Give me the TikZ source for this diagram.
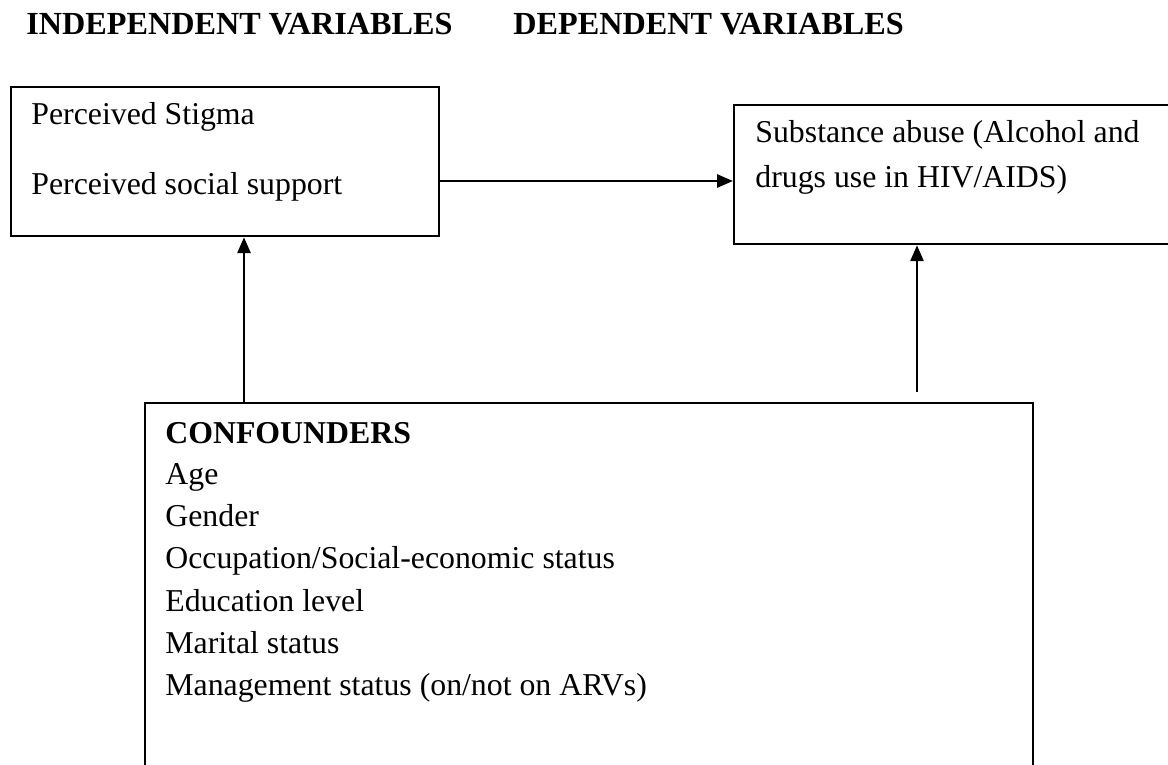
\documentclass[tikz,border=0pt]{standalone}
\usepackage{fontspec}
\setmainfont{Liberation Serif}
\usetikzlibrary{arrows.meta}
\tikzset{
  varbox/.style={draw, line width=1.1pt, anchor=north west, inner sep=0pt},
  vartext/.style={anchor=base west, inner sep=0pt},
  link/.style={line width=1.4pt, -{Triangle[length=8pt,width=6.5pt]}}
}

\begin{document}
\begin{tikzpicture}[x=0.5pt, y=-0.5pt, font=\fontsize{15.9}{19}\selectfont]
	\useasboundingbox (0,0) rectangle (1168,765);
	\clip (0,0) rectangle (1168,765);
	% headings
	\node[vartext] (indephead) at (26,35) {\fontsize{16.1}{19}\selectfont\bfseries INDEPENDENT VARIABLES};
	\node[vartext] (dephead) at (513,35) {\fontsize{16.1}{19}\selectfont\bfseries DEPENDENT VARIABLES};
	% boxes
	\node[varbox, minimum width=214pt, minimum height=74.5pt] (ivbox) at (10,86) {};
	\node[varbox, minimum width=228.5pt, minimum height=69.5pt] (dvbox) at (733,104) {};
	\node[varbox, minimum width=444pt, minimum height=194pt] (cfbox) at (144,402) {};
	% texts
	\node[vartext] (stigma) at (31,125) {Perceived Stigma};
	\node[vartext] (support) at (31,195) {Perceived social support};
	\node[vartext] (abuse) at (755,143) {Substance abuse (Alcohol and};
	\node[vartext] (abuse2) at (755,187) {drugs use in HIV/AIDS)};
	\node[vartext] (cfhead) at (165,443) {\bfseries CONFOUNDERS};
	\foreach \y/\t [count=\i] in {484/{Age}, 526/{Gender}, 568/{Occupation/Social-economic status},
	  611/{Education level}, 653/{Marital status}, 695/{Management status (on/not on ARVs)}}
	  \node[vartext] (cf\i) at (165,\y) {\t};
	% arrows
	\coordinate (rfoot) at (917,392);
	\draw[link] (ivbox.east |- 0,181) -- (dvbox.west |- 0,181);
	\draw[link] (cfbox.north -| 244,0) -- (ivbox.south -| 244,0);
	\draw[link] (rfoot) -- (dvbox.south -| rfoot);
\end{tikzpicture}
\end{document}
